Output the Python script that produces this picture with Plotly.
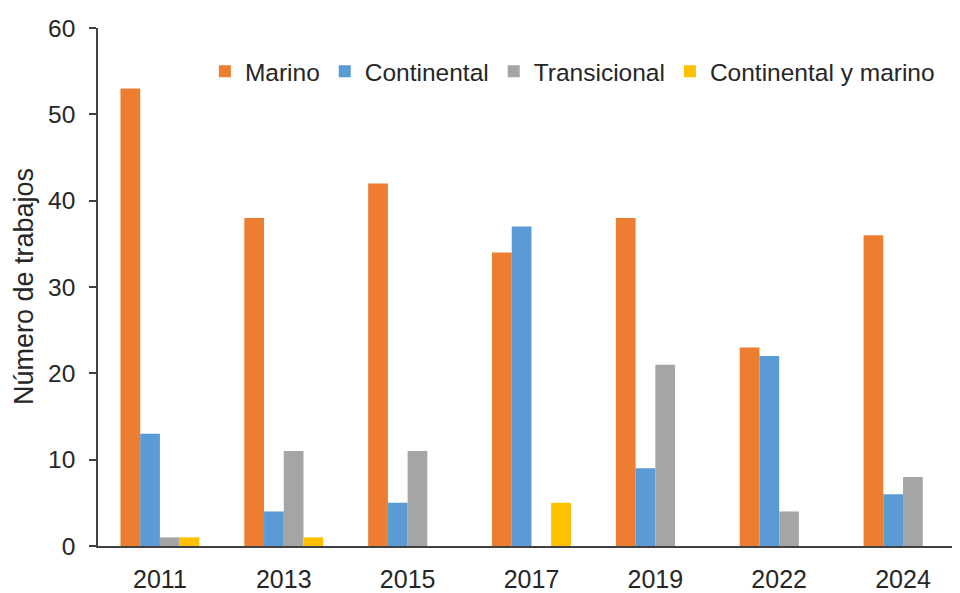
import plotly.graph_objects as go

years = ["2011", "2013", "2015", "2017", "2019", "2022", "2024"]
marino = [53, 38, 42, 34, 38, 23, 36]
continental = [13, 4, 5, 37, 9, 22, 6]
transicional = [1, 11, 11, 0, 21, 4, 8]
cont_marino = [1, 1, 0, 5, 0, 0, 0]

series_names = ["Marino", "Continental", "Transicional", "Continental y marino"]
series_values = [marino, continental, transicional, cont_marino]
colors = ["#ED7D31", "#5B9BD5", "#A5A5A5", "#FFC000"]
y_ticks = [0, 10, 20, 30, 40, 50, 60]

FONT = "Liberation Sans, Arial, sans-serif"
TXT = "#262626"

fig = go.Figure()
for name, vals, col in zip(series_names, series_values, colors):
    fig.add_trace(go.Bar(x=years, y=vals, name=name, marker=dict(color=col, line=dict(width=0))))

fig.update_layout(
    width=952, height=585,
    margin=dict(l=90, r=0, t=20, b=42),
    paper_bgcolor="white", plot_bgcolor="white",
    barmode="group", bargap=0.363, bargroupgap=0,
    font=dict(family=FONT, size=24, color=TXT),
    showlegend=True,
    legend=dict(orientation="h", x=0.124, xanchor="left", y=0.96, yanchor="top",
                font=dict(family=FONT, size=24.5, color=TXT), bgcolor="rgba(0,0,0,0)",
                traceorder="normal"),
    xaxis=dict(type="category", range=[-0.5, 6.46], showline=True, linecolor="#404040", linewidth=1.5,
               ticks="", showgrid=False, zeroline=False, ticklabelstandoff=10,
               tickfont=dict(family=FONT, size=25, color=TXT)),
    yaxis=dict(range=[0, 60], tickvals=y_ticks, showline=True, linecolor="#404040", linewidth=1.5,
               ticks="outside", ticklen=7, tickcolor="#404040", tickwidth=1.5,
               showgrid=False, zeroline=False, ticklabelstandoff=9,
               tickfont=dict(family=FONT, size=24.5, color=TXT)),
    annotations=[dict(text="Número de trabajos", xref="paper", yref="paper", x=-0.0858, y=0.5,
                      textangle=-90, showarrow=False, xanchor="center", yanchor="middle",
                      font=dict(family=FONT, size=27, color=TXT))],
)

fig.write_html("out.html")
